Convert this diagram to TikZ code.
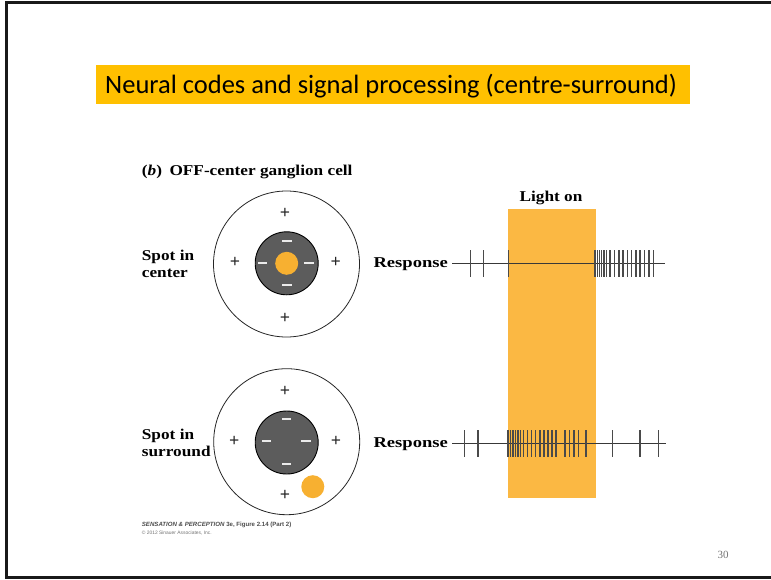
\documentclass[tikz,border=0pt]{standalone}
\usepackage{fontspec}
\setmainfont{Liberation Serif}
\newfontfamily\titlefont{Carlito}
\newfontfamily\figfont[FakeStretch=1.15]{Liberation Serif}
\newfontfamily\respfont[FakeStretch=1.24]{Liberation Serif}
\newfontfamily\creditfont{Liberation Sans}

\definecolor{titleorange}{HTML}{FFC000}
\definecolor{lightband}{HTML}{FBB843}
\definecolor{spotorange}{HTML}{F7B031}
\definecolor{centregray}{HTML}{5C5C5C}
\definecolor{traceline}{HTML}{383838}
\definecolor{spikegray}{HTML}{4A4A4A}

\tikzset{
  figlabel/.style={font=\figfont\bfseries\fontsize{15}{16.8}\selectfont, inner sep=0pt, align=left},
  resplabel/.style={font=\respfont\bfseries\fontsize{15}{16.8}\selectfont, inner sep=0pt},
  field/.style={circle, draw=black!85, line width=0.8pt, fill=white, minimum size=146pt, inner sep=0pt},
  centre/.style={circle, draw=black, line width=0.9pt, fill=centregray, minimum size=63pt, inner sep=0pt},
  lightspot/.style={circle, fill=spotorange, minimum size=23pt, inner sep=0pt},
  plussign/.style={inner sep=0pt, font=\bfseries\fontsize{18}{18}\selectfont, text=black!85},
  minussign/.style={rectangle, fill=white!92!black, minimum width=9.5pt, minimum height=1.9pt, inner sep=0pt},
  trace/.style={draw=traceline, line width=1pt},
  spike/.style={draw=spikegray, line width=1.15pt},
}

\begin{document}
\begin{tikzpicture}[x=1pt, y=-1pt]
\useasboundingbox (0,0) rectangle (771,579);

% slide frame
\draw[line width=3pt, black!90] (771,2.5) -- (6.5,2.5) -- (6.5,577.5) -- (771,577.5);

% title bar
\node[fill=titleorange, minimum width=594pt, minimum height=39pt, inner sep=0pt, anchor=north west] (titlebar) at (96,65) {};
\node[font=\titlefont\fontsize{26.5}{30}\selectfont, anchor=base west, inner sep=0pt] (title) at (105,93.3)
  {Neural codes and signal processing (centre-surround)};

% panel heading
\node[figlabel, anchor=base west] (panel) at (141.7,175.5) {(\textit{b})\enspace OFF-center ganglion cell};

% light-on band
\node[fill=lightband, minimum width=88pt, minimum height=289pt, inner sep=0pt, anchor=north west] (band) at (508,209) {};
\node[figlabel, anchor=base] (lighton) at (551,201.5) {Light on};

% ---------- spot in centre ----------
\node[field] (field1) at (286.5,264) {};
\node[centre] (centre1) at (286.7,263.3) {};
\node[lightspot] (spot1) at (286.7,263.3) {};
\node[plussign] (p1t) at (285,213.3) {+};
\node[plussign] (p1b) at (285,318.3) {+};
\node[plussign] (p1l) at (235,262) {+};
\node[plussign] (p1r) at (335.7,262) {+};
\node[minussign] (m1t) at (287,240.7) {};
\node[minussign] (m1b) at (287,285) {};
\node[minussign] (m1l) at (262.7,263) {};
\node[minussign] (m1r) at (309,263) {};
\node[figlabel, anchor=base west] (lab1) at (141.7,277.7) {Spot in\\center};

\node[resplabel, anchor=base west] (resp1) at (373.3,267.5) {Response};
\coordinate (end1) at (665,263);
\draw[trace] ([xshift=4pt]resp1.east |- end1) -- (end1);
\foreach \t in {470.7,483.3,508.3,
                595,597.2,599.4,601.6,604,606.5,610,614.7,619,623,627.3,631.7,636,640,644.3,649,653.3}
  \draw[spike] (\t,250) -- (\t,277);

% ---------- spot in surround ----------
\node[field] (field2) at (286.7,441.7) {};
\node[centre] (centre2) at (286.7,442.5) {};
\node[plussign] (p2t) at (285,391.7) {+};
\node[plussign] (p2b) at (285,495) {+};
\node[plussign] (p2l) at (234.3,441) {+};
\node[plussign] (p2r) at (336,441) {+};
\node[minussign] (m2t) at (286.7,419.3) {};
\node[minussign] (m2b) at (286.7,464) {};
\node[minussign] (m2l) at (266.7,440.7) {};
\node[minussign] (m2r) at (306,440.7) {};
\node[lightspot] (spot2) at (312.8,486.7) {};
\node[figlabel, anchor=base west] (lab2) at (141.7,456.7) {Spot in\\surround};

\node[resplabel, anchor=base west] (resp2) at (373.3,447.5) {Response};
\coordinate (end2) at (666,443);
\draw[trace] ([xshift=4pt]resp2.east |- end2) -- (end2);
\foreach \t in {464.5,478,
                508,510.5,513,515.5,518,520.5,523.5,527.5,531.5,535.5,540,544,548,552,556,565,569.5,574,578.5,586,
                612.7,640,658.3}
  \draw[spike] (\t,430) -- (\t,457);

% credit line
\node[font=\creditfont\fontsize{6.1}{6.5}\selectfont\bfseries, anchor=base west, inner sep=0pt, text=black!70] (credit) at (141.7,526)
  {\textit{SENSATION \& PERCEPTION} 3e, Figure 2.14 (Part 2)};
\node[font=\creditfont\fontsize{4.9}{5}\selectfont, anchor=base west, inner sep=0pt, text=black!55] (copyright) at (141.7,534)
  {\textcopyright\ 2012 Sinauer Associates, Inc.};

% slide number
\node[font=\fontsize{11}{12}\selectfont, text=black!55, anchor=base] (pagenum) at (723,558) {30};
\end{tikzpicture}
\end{document}
